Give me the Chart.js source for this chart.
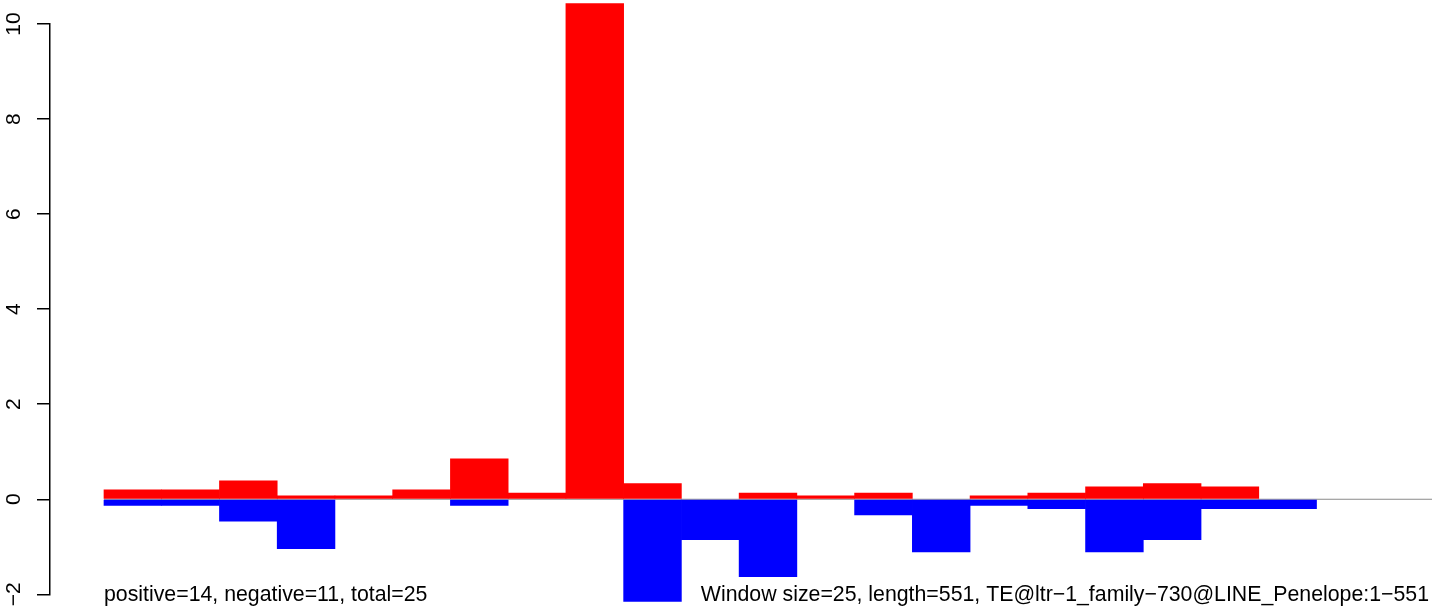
<!DOCTYPE html>
<html>
<head>
<meta charset="utf-8">
<script src="https://cdn.jsdelivr.net/npm/chart.js@4/dist/chart.umd.min.js"></script>
<style>
  html, body { margin: 0; padding: 0; background: #ffffff; }
  #wrap { width: 1444px; height: 613px; position: relative; }
</style>
</head>
<body>
<div id="wrap"><canvas id="c" width="1444" height="613"></canvas></div>
<script>
// ---- data ----
const windows = [1, 2, 3, 4, 5, 6, 7, 8, 9, 10, 11, 12, 13, 14, 15, 16, 17, 18, 19, 20, 21, 22, 23];
const positiveValues = [0.20, 0.20, 0.39, 0.07, 0.07, 0.20, 0.85, 0.13, 10.43, 0.33, 0, 0.13, 0.07, 0.13, 0, 0.07, 0.13, 0.26, 0.33, 0.26, 0, 0, 0];
const negativeValues = [-0.13, -0.13, -0.46, -1.04, 0, 0, -0.13, 0, 0, -2.15, -0.85, -1.63, 0, -0.33, -1.11, -0.13, -0.20, -1.11, -0.85, -0.20, -0.20, 0, 0];
const yTicks = [-2, 0, 2, 4, 6, 8, 10];
const leftNote = 'positive=14, negative=11, total=25';
const rightNote = 'Window size=25, length=551, TE@ltr\u22121_family\u2212730@LINE_Penelope:1\u2212551';

const FONT = '"Liberation Sans", Arial, Helvetica, sans-serif';
const toPoints = arr => arr.map((v, i) => ({ x: windows[i], y: v === 0 ? null : v }));

const notesPlugin = {
  id: 'notes',
  afterDraw(chart) {
    const ctx = chart.ctx;
    const xs = chart.scales.x;
    ctx.save();
    ctx.font = '21.3px ' + FONT;
    ctx.fillStyle = '#000000';
    ctx.textBaseline = 'alphabetic';
    ctx.textAlign = 'left';
    ctx.fillText(leftNote, xs.getPixelForValue(windows[0] - 0.5), 601);
    ctx.textAlign = 'right';
    ctx.fillText(rightNote, xs.getPixelForValue(windows[windows.length - 1] + 0.5) - 3, 601);
    ctx.restore();
  }
};

new Chart(document.getElementById('c'), {
  data: {
    datasets: [
      {
        type: 'line',
        data: [{ x: windows[0] - 0.5, y: 0 }, { x: windows[windows.length - 1] + 0.5, y: 0 }],
        borderColor: '#8a8a8a',
        borderWidth: 1,
        pointRadius: 0,
        order: 3
      },
      {
        type: 'bar',
        data: toPoints(positiveValues),
        backgroundColor: '#ff0000',
        borderWidth: 0,
        grouped: false,
        barPercentage: 1,
        categoryPercentage: 1,
        clip: false,
        order: 2
      },
      {
        type: 'bar',
        data: toPoints(negativeValues),
        backgroundColor: '#0000ff',
        borderWidth: 0,
        grouped: false,
        barPercentage: 1,
        categoryPercentage: 1,
        clip: false,
        order: 1
      }
    ]
  },
  options: {
    responsive: false,
    animation: false,
    events: [],
    layout: { padding: { left: 0, right: 12, top: 24, bottom: 18.7 } },
    plugins: { legend: { display: false }, tooltip: { enabled: false } },
    scales: {
      x: {
        type: 'linear',
        min: -0.435,
        max: 23.5,
        offset: false,
        grid: { offset: false },
        display: false
      },
      y: {
        type: 'linear',
        min: yTicks[0],
        max: yTicks[yTicks.length - 1],
        afterFit(scale) { scale.width = 50; scale.paddingTop = 0; scale.paddingBottom = 0; },
        afterBuildTicks(scale) { scale.ticks = yTicks.map(v => ({ value: v })); },
        border: { display: true, color: '#000000', width: 1.5 },
        grid: { drawOnChartArea: false, drawTicks: true, tickLength: 13, color: '#000000', lineWidth: 1.5 },
        ticks: {
          minRotation: 90,
          maxRotation: 90,
          crossAlign: 'center',
          padding: 11,
          color: '#000000',
          font: { family: FONT, size: 21 },
          callback: v => String(v).replace('-', '\u2212')
        }
      }
    }
  },
  plugins: [notesPlugin]
});
</script>
</body>
</html>
